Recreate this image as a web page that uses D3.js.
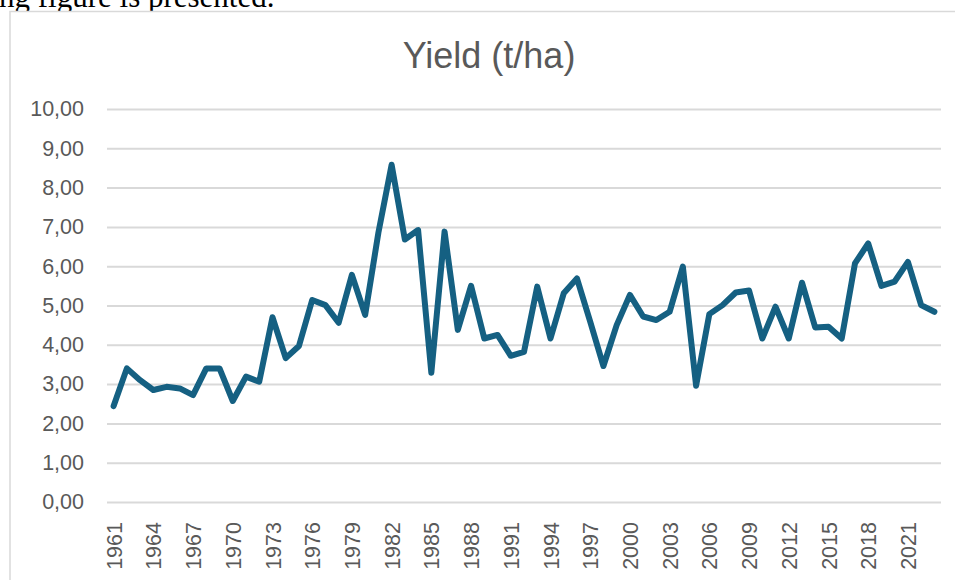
<!DOCTYPE html>
<html>
<head>
<meta charset="utf-8">
<script src="https://cdn.jsdelivr.net/npm/d3@7"></script>
<style>
  html, body { margin: 0; padding: 0; background: #fff; overflow: hidden; }
  svg { display: block; }
</style>
</head>
<body>
<script>
const years = d3.range(1961, 2024);
const yieldValues = [
  2.44, 3.40, 3.10, 2.85, 2.93, 2.89, 2.72, 3.40, 3.40, 2.57,
  3.19, 3.06, 4.70, 3.66, 3.97, 5.14, 5.01, 4.56, 5.78, 4.76,
  6.85, 8.58, 6.68, 6.92, 3.29, 6.88, 4.38, 5.50, 4.16, 4.25,
  3.72, 3.82, 5.48, 4.16, 5.31, 5.69, 4.59, 3.46, 4.50, 5.27,
  4.72, 4.63, 4.84, 5.99, 2.96, 4.78, 5.01, 5.33, 5.38, 4.16,
  4.97, 4.16, 5.58, 4.44, 4.46, 4.16, 6.07, 6.58, 5.50, 5.61,
  6.11, 5.01, 4.84
];
const yTicks = [0, 1, 2, 3, 4, 5, 6, 7, 8, 9, 10];
const xTickYears = years.filter((d, i) => i % 3 === 0);
const title = 'Yield (t/ha)';

const width = 955;
const height = 580;
const plotLeft = 107;
const plotRight = 941;
const plotTop = 109;
const plotBottom = 502;
const textColor = '#595959';
const lineColor = '#156082';
const gridColor = '#d9d9d9';

const data = years.map((y, i) => ({ year: y, value: yieldValues[i] }));

const svg = d3.select('body')
  .append('svg')
  .attr('width', width)
  .attr('height', height);

// bit of the document text above the chart (cut off, as in the page shot)
svg.append('text')
  .attr('x', -1)
  .attr('y', 7)
  .attr('font-family', 'Liberation Serif, Times New Roman, serif')
  .attr('font-size', 31)
  .attr('fill', '#000')
  .text('ng figure is presented.');

// chart frame
svg.append('rect')
  .attr('x', 10)
  .attr('y', 11.5)
  .attr('width', 1000)
  .attr('height', 1000)
  .attr('fill', '#fff')
  .attr('stroke', gridColor)
  .attr('stroke-width', 1.5);

svg.append('text')
  .attr('x', 489)
  .attr('y', 68)
  .attr('text-anchor', 'middle')
  .attr('font-family', 'Liberation Sans, Arial, sans-serif')
  .attr('font-size', 36)
  .attr('fill', textColor)
  .text(title);

const x = d3.scalePoint()
  .domain(years)
  .range([plotLeft, plotRight])
  .padding(0.5);

const y = d3.scaleLinear()
  .domain([0, 10])
  .range([plotBottom, plotTop]);

const locale = d3.formatLocale({
  decimal: ',',
  thousands: '.',
  grouping: [3],
  currency: ['', ' €']
});
const fmt = locale.format('.2f');

const yAxis = svg.append('g')
  .attr('transform', `translate(${plotLeft},0)`)
  .call(
    d3.axisLeft(y)
      .tickValues(yTicks)
      .tickSize(-(plotRight - plotLeft))
      .tickPadding(23)
      .tickFormat(fmt)
  );
yAxis.select('.domain').remove();
yAxis.selectAll('.tick line')
  .attr('stroke', gridColor)
  .attr('stroke-width', 2);
yAxis.selectAll('.tick text')
  .attr('font-family', 'Liberation Sans, Arial, sans-serif')
  .attr('font-size', 21.5)
  .attr('fill', textColor);

const xAxis = svg.append('g')
  .attr('transform', `translate(0,${plotBottom})`)
  .call(
    d3.axisBottom(x)
      .tickValues(xTickYears)
      .tickSize(0)
      .tickFormat(d3.format('d'))
  );
xAxis.select('.domain').remove();
xAxis.selectAll('.tick text')
  .attr('font-family', 'Liberation Sans, Arial, sans-serif')
  .attr('font-size', 21.5)
  .attr('fill', textColor)
  .attr('text-anchor', 'end')
  .attr('transform', 'rotate(-90)')
  .attr('x', -20)
  .attr('y', 0)
  .attr('dy', '0.35em');

const line = d3.line()
  .x(d => x(d.year))
  .y(d => y(d.value));

svg.append('path')
  .datum(data)
  .attr('d', line)
  .attr('fill', 'none')
  .attr('stroke', lineColor)
  .attr('stroke-width', 6)
  .attr('stroke-linejoin', 'round')
  .attr('stroke-linecap', 'round');
</script>
</body>
</html>
